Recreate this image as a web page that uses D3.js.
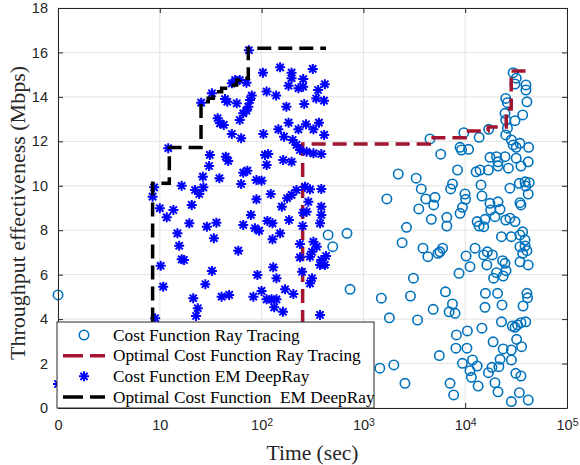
<!DOCTYPE html>
<html>
<head>
<meta charset="utf-8">
<script src="https://cdn.jsdelivr.net/npm/d3@7"></script>
<style>
body { margin: 0; background: #fff; }
text { font-family: "Liberation Sans", Arial, sans-serif; }
.serif { font-family: "Liberation Serif", "Times New Roman", serif; }
</style>
</head>
<body>
<svg id="chart" width="580" height="465"></svg>
<script>
// [time (sec), throughput (Mbps)]
var rtCost = [
    [1, 5.09], [740, 5.34],
    [29600, 15.09], [31700, 14.84], [30850, 14.58], [39500, 14.54], [39500, 14.31], [40400, 13.78],
    [25000, 13.93], [26000, 13.74], [24600, 13.26], [36700, 13.19], [30850, 12.93], [25000, 12.96],
    [26000, 12.59], [17000, 12.54], [9700, 12.39], [13700, 12.18], [4510, 12.11], [25000, 12.29],
    [28400, 12.06], [29600, 11.84], [31700, 11.73], [34500, 11.91], [42000, 11.73], [8900, 11.73],
    [9200, 11.61], [10800, 11.64], [5750, 11.42], [17500, 11.28], [20300, 11.31], [24600, 11.31],
    [21000, 11.08], [31700, 11.24], [41600, 11.08], [35300, 10.89], [26600, 10.79], [21000, 10.89],
    [14000, 10.71], [12800, 10.63], [16900, 10.71], [8400, 10.71], [2200, 10.53], [3300, 10.34],
    [1700, 9.41], [690, 7.86], [500, 7.26], [450, 7.79], [2650, 8.13], [2400, 7.44], [3700, 9.86],
    [4100, 9.41], [5050, 9.48], [4900, 9.14], [3500, 8.96], [4650, 8.49], [3850, 7.19], [4300, 6.81],
    [5400, 6.96], [6000, 7.19], [5650, 7.03], [6600, 8.58], [6600, 8.19], [7200, 9.86], [7500, 10.08],
    [9950, 9.63], [10100, 9.39], [9400, 9.03], [8900, 8.76], [10200, 6.84], [12500, 7.19], [14600, 9.54],
    [14300, 10.04], [13100, 8.39], [13700, 8.19], [15200, 8.16], [15650, 8.49], [17500, 9.21],
    [17800, 8.91], [19600, 8.61], [21000, 9.28], [22000, 8.94], [22700, 7.71], [28400, 7.71],
    [27500, 8.54], [25000, 8.46], [27500, 9.89], [30850, 8.39], [34500, 9.24], [35300, 9.14],
    [41600, 9.63], [34000, 10.11], [38700, 10.18], [42500, 10.14], [39300, 9.99], [34500, 7.79],
    [36700, 7.93], [38700, 7.56], [38700, 7.29], [40400, 7.08], [34500, 7.26], [36700, 6.96],
    [34500, 6.58], [41600, 6.44], [23300, 6.63], [24600, 6.51], [16300, 6.44], [15200, 6.89],
    [18500, 6.89], [16500, 7.03], [11150, 6.36],
    [8700, 6.06], [3100, 5.84], [20300, 6.09], [25200, 6.18], [23600, 5.94], [19000, 5.84],
    [1500, 4.94], [2900, 5.04], [6400, 5.23], [4850, 4.44], [7500, 4.68], [6950, 4.33], [7950, 4.26],
    [1800, 4.06], [3400, 3.96], [15800, 5.16], [20800, 5.16], [40400, 5.16], [41000, 4.96],
    [15650, 4.53], [23000, 4.64], [37000, 4.59], [22700, 3.88], [14600, 3.59], [10500, 3.47],
    [8200, 3.29], [8100, 2.69], [10400, 2.69], [5570, 2.36], [18800, 2.98], [23600, 2.66],
    [28400, 2.61], [28400, 2.16], [32000, 3.09], [35800, 2.76], [29000, 3.69], [30850, 3.63],
    [32700, 3.74], [35300, 3.84], [39300, 3.88], [9400, 2.01], [11800, 2.16], [13100, 1.89],
    [11150, 1.68], [11500, 1.38], [16900, 1.59], [18300, 1.83], [21400, 1.86], [22000, 2.19],
    [31400, 1.56], [35300, 1.44], [19600, 1.14], [21000, 0.73], [13400, 0.99], [7100, 1.11],
    [7700, 0.59], [2560, 1.11], [1990, 1.94], [1450, 1.79], [28400, 0.29], [34000, 0.69], [41600, 0.36]
];

var emCost = [
    [1, 1.08],
    [75, 16.1], [152, 15.33], [318, 15.26], [103, 15.09], [197, 15.09], [197, 14.84], [256, 14.8],
    [184, 14.5], [230, 14.39], [256, 14.46], [418, 14.57], [359, 14.31], [55, 14.76], [51, 14.61],
    [61, 14.76], [71, 14.64], [112, 14.24], [139, 14.06], [80, 14.06], [77, 13.86], [43.7, 13.9],
    [46, 13.78], [57, 13.71], [25.5, 13.74], [32.5, 14.16], [344, 13.93], [410, 13.83], [262, 13.68],
    [175, 13.56], [74, 13.56], [71, 13.38], [66, 13.26], [37, 13.04], [39, 12.81], [42.5, 12.74],
    [61, 12.96], [184, 12.84], [273, 12.77], [366, 12.84], [146, 12.54], [230, 12.54], [323, 12.54],
    [412, 12.29], [104, 12.33], [51, 12.33], [63, 12.14], [166, 12.21], [202, 12.06], [220, 11.84],
    [238, 11.61], [277, 11.53], [323, 11.46], [386, 11.43], [108, 11.39], [116, 11.43], [112, 10.94],
    [163, 11.16], [197, 11.08], [31, 11.39], [30.5, 10.89], [44.5, 11.31], [47, 11.12], [12.1, 11.69],
    [72.5, 10.68], [66, 10.59], [26.5, 10.41], [38.5, 10.34], [89, 10.26], [100, 10.23], [63, 10.08],
    [267, 9.96], [220, 9.81], [386, 9.86], [299, 9.84], [178, 9.44], [197, 9.59], [16.4, 10.0],
    [22.2, 9.81], [24.4, 9.63], [26.8, 9.93], [123, 9.63], [89, 9.39], [8.8, 9.93], [8.5, 9.51],
    [10, 8.99], [13.6, 8.91], [20.6, 9.14], [158, 9.06], [288, 9.28], [386, 9.06],
    [11.7, 8.58], [19.5, 8.31], [29, 8.16], [36, 8.34], [14.9, 7.86], [15.5, 7.3], [34, 7.64],
    [16.4, 6.69], [17.3, 6.66], [10.2, 6.4], [59, 7.08], [66, 8.24], [78.5, 8.69], [86, 8.09],
    [94.5, 7.98], [114, 8.42], [128, 8.31], [128, 7.59], [152, 7.86], [186, 8.46], [256, 8.79],
    [277, 8.83], [253, 8.19], [386, 8.69], [375, 8.31], [238, 7.38], [323, 7.48], [348, 7.26],
    [313, 7.03], [238, 6.78], [299, 6.81], [386, 6.66], [418, 6.44], [375, 6.44], [430, 6.84],
    [250, 6.13], [313, 5.84], [299, 5.61], [130, 6.33], [140, 5.84], [91, 5.99], [32.5, 6.17],
    [28, 5.57], [10.8, 5.46], [21.3, 4.94], [40.5, 5.01], [48, 5.09], [83, 5.01], [100, 5.27],
    [112, 4.89], [125, 4.89], [140, 4.89], [170, 5.34], [205, 5.13], [133, 4.53], [162, 4.33],
    [23.6, 4.49], [22.7, 4.14], [375, 4.19], [9, 4.04]
];

// step curves (each point starts a new level)
var rtOptimal = [[253, 0], [253, 11.88], [4440, 12.16], [10000, 12.46], [16800, 12.64],
    [25300, 13.45], [28300, 15.17], [42000, 15.17]];
var emOptimal = [[8.5, 2], [8.5, 10.11], [12.4, 11.72], [25.4, 13.78], [29.9, 13.94], [33.6, 14.23],
    [40.5, 14.39], [52.7, 14.54], [57, 14.76], [61.4, 14.84], [74, 14.91], [74, 16.19], [429, 16.19]];

var xTicks = [1, 10, 100, 1000, 10000, 100000];
var yTicks = [0, 2, 4, 6, 8, 10, 12, 14, 16, 18];

var legendNames = ["Cost Function Ray Tracing", "Optimal Cost Function Ray Tracing",
    "Cost Function EM DeepRay", "Optimal Cost Function  EM DeepRay"];

var rtColor = "#0072BD",
    rtLineColor = "#A2142F",
    emColor = "#0000FF",
    axisColor = "#262626";

var svg = d3.select("#chart");

var plotLeft = 58, plotRight = 567, plotTop = 8, plotBottom = 408;

var x = d3.scaleLog().domain([1, 1e5]).range([plotLeft, plotRight]);
var y = d3.scaleLinear().domain([0, 18]).range([plotBottom, plotTop]);

// grid
var grid = svg.append("g").attr("stroke", "#e2e2e2").attr("stroke-width", 1);
grid.selectAll(".gx").data(xTicks).enter().append("line")
    .attr("x1", function(d) { return x(d); }).attr("x2", function(d) { return x(d); })
    .attr("y1", plotTop).attr("y2", plotBottom);
grid.selectAll(".gy").data(yTicks).enter().append("line")
    .attr("x1", plotLeft).attr("x2", plotRight)
    .attr("y1", function(d) { return y(d); }).attr("y2", function(d) { return y(d); });

var starPath = "M-5,0H5M0,-5V5M-3.6,-3.6L3.6,3.6M-3.6,3.6L3.6,-3.6";

function stepLine() {
    return d3.line()
        .x(function(d) { return x(d[0]); })
        .y(function(d) { return y(d[1]); })
        .curve(d3.curveStepAfter);
}

// ray tracing cost (open circles)
svg.append("g").selectAll("circle")
    .data(rtCost).enter().append("circle")
    .attr("cx", function(d) { return x(d[0]); })
    .attr("cy", function(d) { return y(d[1]); })
    .attr("r", 4.7)
    .attr("fill", "none")
    .attr("stroke", rtColor)
    .attr("stroke-width", 1.6);

svg.append("path")
    .datum(rtOptimal)
    .attr("d", stepLine())
    .attr("fill", "none")
    .attr("stroke", rtLineColor)
    .attr("stroke-width", 3.5)
    .attr("stroke-dasharray", "14,7");

// EM DeepRay cost (asterisks)
svg.append("g").selectAll("path")
    .data(emCost).enter().append("path")
    .attr("transform", function(d) { return "translate(" + x(d[0]) + "," + y(d[1]) + ")"; })
    .attr("d", starPath)
    .attr("stroke", emColor)
    .attr("stroke-width", 2);

svg.append("path")
    .datum(emOptimal)
    .attr("d", stepLine())
    .attr("fill", "none")
    .attr("stroke", "#000")
    .attr("stroke-width", 3.5)
    .attr("stroke-dasharray", "14,7");

// axes, ticks pointing inward
function styleAxis(g) {
    g.attr("font-family", null);
    g.select(".domain").attr("stroke", axisColor);
    g.selectAll(".tick line").attr("stroke", axisColor);
    g.selectAll(".tick text").attr("fill", axisColor).style("font-size", "14.5px");
}

svg.append("g")
    .attr("transform", "translate(0," + plotBottom + ")")
    .call(d3.axisBottom(x).tickValues(xTicks).tickSize(-5).tickSizeOuter(0).tickPadding(12).tickFormat(""))
    .call(styleAxis)
    .selectAll(".tick text")
    .each(function(d) {
        var t = d3.select(this);
        var p = Math.round(Math.log10(d));
        if (p == 0) { t.text("0"); return; }
        if (p == 1) { t.text("10"); return; }
        t.append("tspan").text("10");
        t.append("tspan").attr("dy", "-0.45em").style("font-size", "10.5px").text(p);
    });

svg.append("g")
    .attr("transform", "translate(0," + plotTop + ")")
    .call(d3.axisTop(x).tickValues(xTicks).tickSize(-5).tickSizeOuter(0).tickFormat(""))
    .call(styleAxis);

svg.append("g")
    .attr("transform", "translate(" + plotLeft + ",0)")
    .call(d3.axisLeft(y).tickValues(yTicks).tickSize(-5).tickSizeOuter(0).tickPadding(10))
    .call(styleAxis);

svg.append("g")
    .attr("transform", "translate(" + plotRight + ",0)")
    .call(d3.axisRight(y).tickValues(yTicks).tickSize(-5).tickSizeOuter(0).tickFormat(""))
    .call(styleAxis);

// axis titles
svg.append("text")
    .attr("class", "serif")
    .attr("x", (plotLeft + plotRight) / 2)
    .attr("y", 460)
    .attr("text-anchor", "middle")
    .style("font-size", "21.5px")
    .attr("fill", axisColor)
    .text("Time (sec)");

svg.append("text")
    .attr("class", "serif")
    .attr("transform", "translate(25,213) rotate(-90)")
    .attr("text-anchor", "middle")
    .style("font-size", "22px")
    .attr("fill", axisColor)
    .text("Throughput effectiveness (Mbps)");

// legend
var legend = svg.append("g");
legend.append("rect")
    .attr("x", 57).attr("y", 322)
    .attr("width", 317).attr("height", 86)
    .attr("fill", "#fff")
    .attr("stroke", axisColor)
    .attr("stroke-width", 1);

var rowY = d3.scalePoint().domain(legendNames).range([335, 397]);

legendNames.forEach(function(name, i) {
    var ly = rowY(name);
    if (i == 0) {
        legend.append("circle").attr("cx", 84).attr("cy", ly).attr("r", 4.7)
            .attr("fill", "none").attr("stroke", rtColor).attr("stroke-width", 1.6);
    } else if (i == 2) {
        legend.append("path").attr("transform", "translate(84," + ly + ")")
            .attr("d", starPath).attr("stroke", emColor).attr("stroke-width", 2);
    } else {
        legend.append("line").attr("x1", 63).attr("x2", 105).attr("y1", ly).attr("y2", ly)
            .attr("stroke", i == 1 ? rtLineColor : "#000")
            .attr("stroke-width", 3.5)
            .attr("stroke-dasharray", "20,7");
    }
    legend.append("text")
        .attr("class", "serif")
        .attr("x", 113)
        .attr("y", ly)
        .attr("dy", "0.33em")
        .style("font-size", "17.3px")
        .style("white-space", "pre")
        .attr("fill", "#000")
        .text(name);
});
</script>
</body>
</html>
